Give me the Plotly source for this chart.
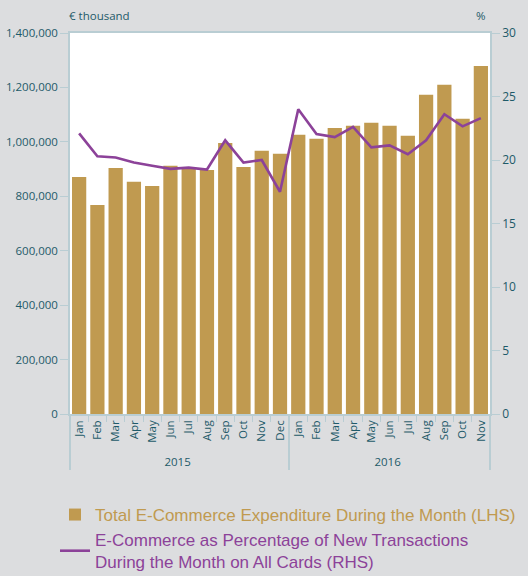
import plotly.graph_objects as go

years = ["2015"] * 12 + ["2016"] * 11
months = ["Jan", "Feb", "Mar", "Apr", "May", "Jun", "Jul", "Aug", "Sep", "Oct", "Nov", "Dec",
          "Jan", "Feb", "Mar", "Apr", "May", "Jun", "Jul", "Aug", "Sep", "Oct", "Nov"]
expenditure = [871000, 768000, 904000, 853000, 838000, 912000, 905000, 897000, 996000, 908000, 967000, 956000,
               1026000, 1011000, 1051000, 1059000, 1070000, 1059000, 1022000, 1173000, 1210000, 1085000, 1279000]
pct_share = [22.1, 20.3, 20.2, 19.8, 19.55, 19.3, 19.4, 19.25, 21.55, 19.8, 20.0, 17.5,
             24.0, 22.05, 21.8, 22.6, 21.0, 21.15, 20.45, 21.55, 23.6, 22.65, 23.3]
left_ticks = [0, 200000, 400000, 600000, 800000, 1000000, 1200000, 1400000]
right_ticks = [0, 5, 10, 15, 20, 25, 30]

BAR = "#C09A50"
LINE = "#8C4299"
TXT = "#1E5A69"
AX = "#B9CDD3"
BG = "#DCDDDF"

x = [years, months]

fig = go.Figure()
fig.add_trace(go.Bar(
    x=x, y=expenditure, marker=dict(color=BAR, line=dict(width=0)),
    name="<span style='color:%s'>Total E-Commerce Expenditure During the Month (LHS)</span>" % BAR,
    yaxis="y"))
fig.add_trace(go.Scatter(
    x=x, y=pct_share, mode="lines", line=dict(color=LINE, width=2.6),
    name="<span style='color:%s'>E-Commerce as Percentage of New Transactions<br>During the Month on All Cards (RHS)</span>" % LINE,
    yaxis="y2"))

fig.update_layout(
    width=528, height=576,
    margin=dict(l=70, r=38, t=33, b=162, autoexpand=False),
    paper_bgcolor=BG, plot_bgcolor="white",
    font=dict(family="Open Sans", size=11, color=TXT),
    bargap=0.22,
    showlegend=True,
    legend=dict(orientation="v", xref="container", yref="container",
                x=55 / 528, xanchor="left", y=1 - 497 / 576, yanchor="top",
                font=dict(family="Liberation Sans", size=17), bgcolor="rgba(0,0,0,0)",
                tracegroupgap=2, itemwidth=30),
    xaxis=dict(type="multicategory", tickangle=-90, ticks="outside", ticklen=6, tickcolor=AX,
               showline=True, linecolor=AX, linewidth=1.5, mirror=True, automargin=False,
               showdividers=True, dividercolor=AX, dividerwidth=1.5,
               tickfont=dict(size=11.5, color=TXT)),
    yaxis=dict(range=[0, 1400000], tickvals=left_ticks, tickformat=",d", showgrid=False,
               ticks="outside", ticklen=8, tickcolor=AX, showline=True, linecolor=AX, linewidth=1.5,
               zeroline=False, automargin=False, tickfont=dict(size=11.5, color=TXT)),
    yaxis2=dict(range=[0, 30], tickvals=right_ticks, overlaying="y", side="right", showgrid=False,
                ticks="outside", ticklen=8, tickcolor=AX, showline=True, linecolor=AX, linewidth=1.5,
                zeroline=False, automargin=False, tickfont=dict(size=12, color=TXT)),
    annotations=[
        dict(text="€ thousand", xref="paper", yref="paper", x=0, y=1.0, yshift=8, xshift=-3,
             xanchor="left", yanchor="bottom", showarrow=False, font=dict(size=11.5, color=TXT)),
        dict(text="%", xref="paper", yref="paper", x=1.0, y=1.0, yshift=8, xshift=-2,
             xanchor="right", yanchor="bottom", showarrow=False, font=dict(size=11.5, color=TXT)),
    ],
)

fig.write_html("out.html", config={"displayModeBar": False},
               post_script="document.body.style.margin='0';document.body.style.overflow='hidden';")
